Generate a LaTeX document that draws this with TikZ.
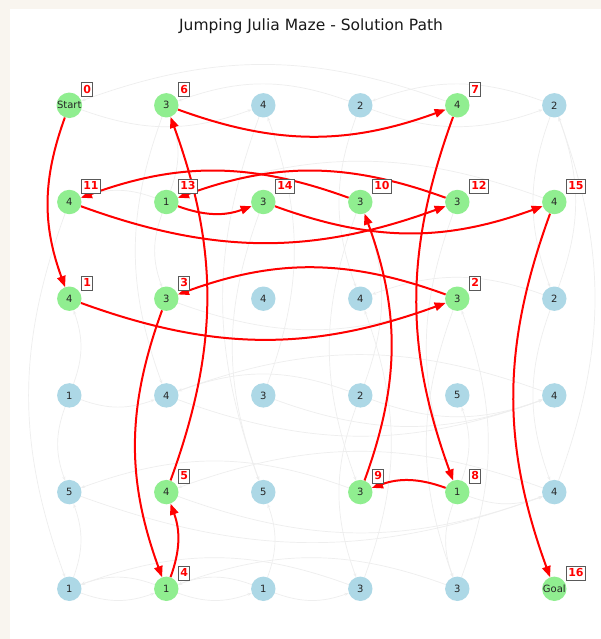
\documentclass[tikz,border=0pt]{standalone}
\usepackage{fontspec}
\setmainfont{DejaVu Sans}
\usetikzlibrary{arrows.meta,calc,backgrounds}
\definecolor{PageCream}{RGB}{249,245,239}
\definecolor{CellGreen}{RGB}{144,238,144}
\definecolor{CellBlue}{RGB}{173,216,230}
\definecolor{EdgeGrey}{RGB}{238,238,238}

% label / jump length / kind, row by row
\def\mazecells{Start/2/visited, 3/3/visited, 4/4/unvisited, 2/2/unvisited, 4/4/visited, 2/2/unvisited,
  4/4/visited, 1/1/visited, 3/3/visited, 3/3/visited, 3/3/visited, 4/4/visited,
  4/4/visited, 3/3/visited, 4/4/unvisited, 4/4/unvisited, 3/3/visited, 2/2/unvisited,
  1/1/unvisited, 4/4/unvisited, 3/3/unvisited, 2/2/unvisited, 5/5/unvisited, 4/4/unvisited,
  5/5/unvisited, 4/4/visited, 5/5/unvisited, 3/3/visited, 1/1/visited, 4/4/unvisited,
  1/1/unvisited, 1/1/visited, 1/1/unvisited, 3/3/unvisited, 3/3/unvisited, Goal/0/visited}

\tikzset{
  cell/.style={circle,minimum size=24.4pt,inner sep=0pt,
    font=\fontsize{10}{12}\selectfont,text=black!85},
  visited/.style={cell,fill=CellGreen},
  unvisited/.style={cell,fill=CellBlue},
  jump/.style={-{Stealth[length=4pt,width=3pt]},EdgeGrey,line width=0.7pt,bend right=20},
  hop/.style={-{Triangle[length=11pt,width=8.5pt]},red,line width=2pt,bend right=20},
  steplabel/.style={draw=black!65,fill=white,text=red,line width=0.8pt,anchor=west,
    font=\bfseries\fontsize{11}{11}\selectfont,text height=8pt,text depth=1.5pt,
    inner xsep=1.6pt,inner ysep=2.2pt}
}

\begin{document}
\begin{tikzpicture}[x=1pt,y=1pt]
  \begin{scope}[on background layer]
    \fill[PageCream] (0,0) rectangle (601,-639);
    \fill[white] (10,-9) rectangle (601,-639);
  \end{scope}
  \useasboundingbox (0,0) rectangle (601,-639);

  \node[font=\fontsize{15.5}{18}\selectfont,text=black!90] (title) at (311,-26)
    {Jumping Julia Maze - Solution Path};

  % grid of cells
  \foreach \lbl/\v/\kind [count=\i from 0] in \mazecells {
    \pgfmathtruncatemacro\c{mod(\i,6)}
    \pgfmathtruncatemacro\r{\i/6}
    \node[\kind] (n-\c-\r) at ({69.3+97*\c},{-105.3-96.7*\r}) {\lbl};
  }

  % every possible jump, faint
  \begin{scope}[on background layer]
    \foreach \lbl/\v/\kind [count=\i from 0] in \mazecells {
      \pgfmathtruncatemacro\c{mod(\i,6)}
      \pgfmathtruncatemacro\r{\i/6}
      \foreach \dx/\dy in {1/0,-1/0,0/1,0/-1} {
        \pgfmathtruncatemacro\tc{\c+\dx*\v}
        \pgfmathtruncatemacro\tr{\r+\dy*\v}
        \ifnum\v>0 \ifnum\tc>-1 \ifnum\tc<6 \ifnum\tr>-1 \ifnum\tr<6
          \draw[jump] (n-\c-\r) to (n-\tc-\tr);
        \fi\fi\fi\fi\fi
      }
    }
    % solution path
    \foreach \a/\b in {0-0/0-2, 0-2/4-2, 4-2/1-2, 1-2/1-5, 1-5/1-4, 1-4/1-0,
      1-0/4-0, 4-0/4-4, 4-4/3-4, 3-4/3-1, 3-1/0-1, 0-1/4-1, 4-1/1-1, 1-1/2-1,
      2-1/5-1, 5-1/5-5}
      \draw[hop] (n-\a) to (n-\b);
  \end{scope}

  % step numbers
  \foreach \cell/\step in {0-0/0, 0-2/1, 4-2/2, 1-2/3, 1-5/4, 1-4/5, 1-0/6, 4-0/7,
    4-4/8, 3-4/9, 3-1/10, 0-1/11, 4-1/12, 1-1/13, 2-1/14, 5-1/15, 5-5/16}
    \node[steplabel] (step\step) at ($(n-\cell.center)+(12,15.5)$) {\step};
\end{tikzpicture}
\end{document}
